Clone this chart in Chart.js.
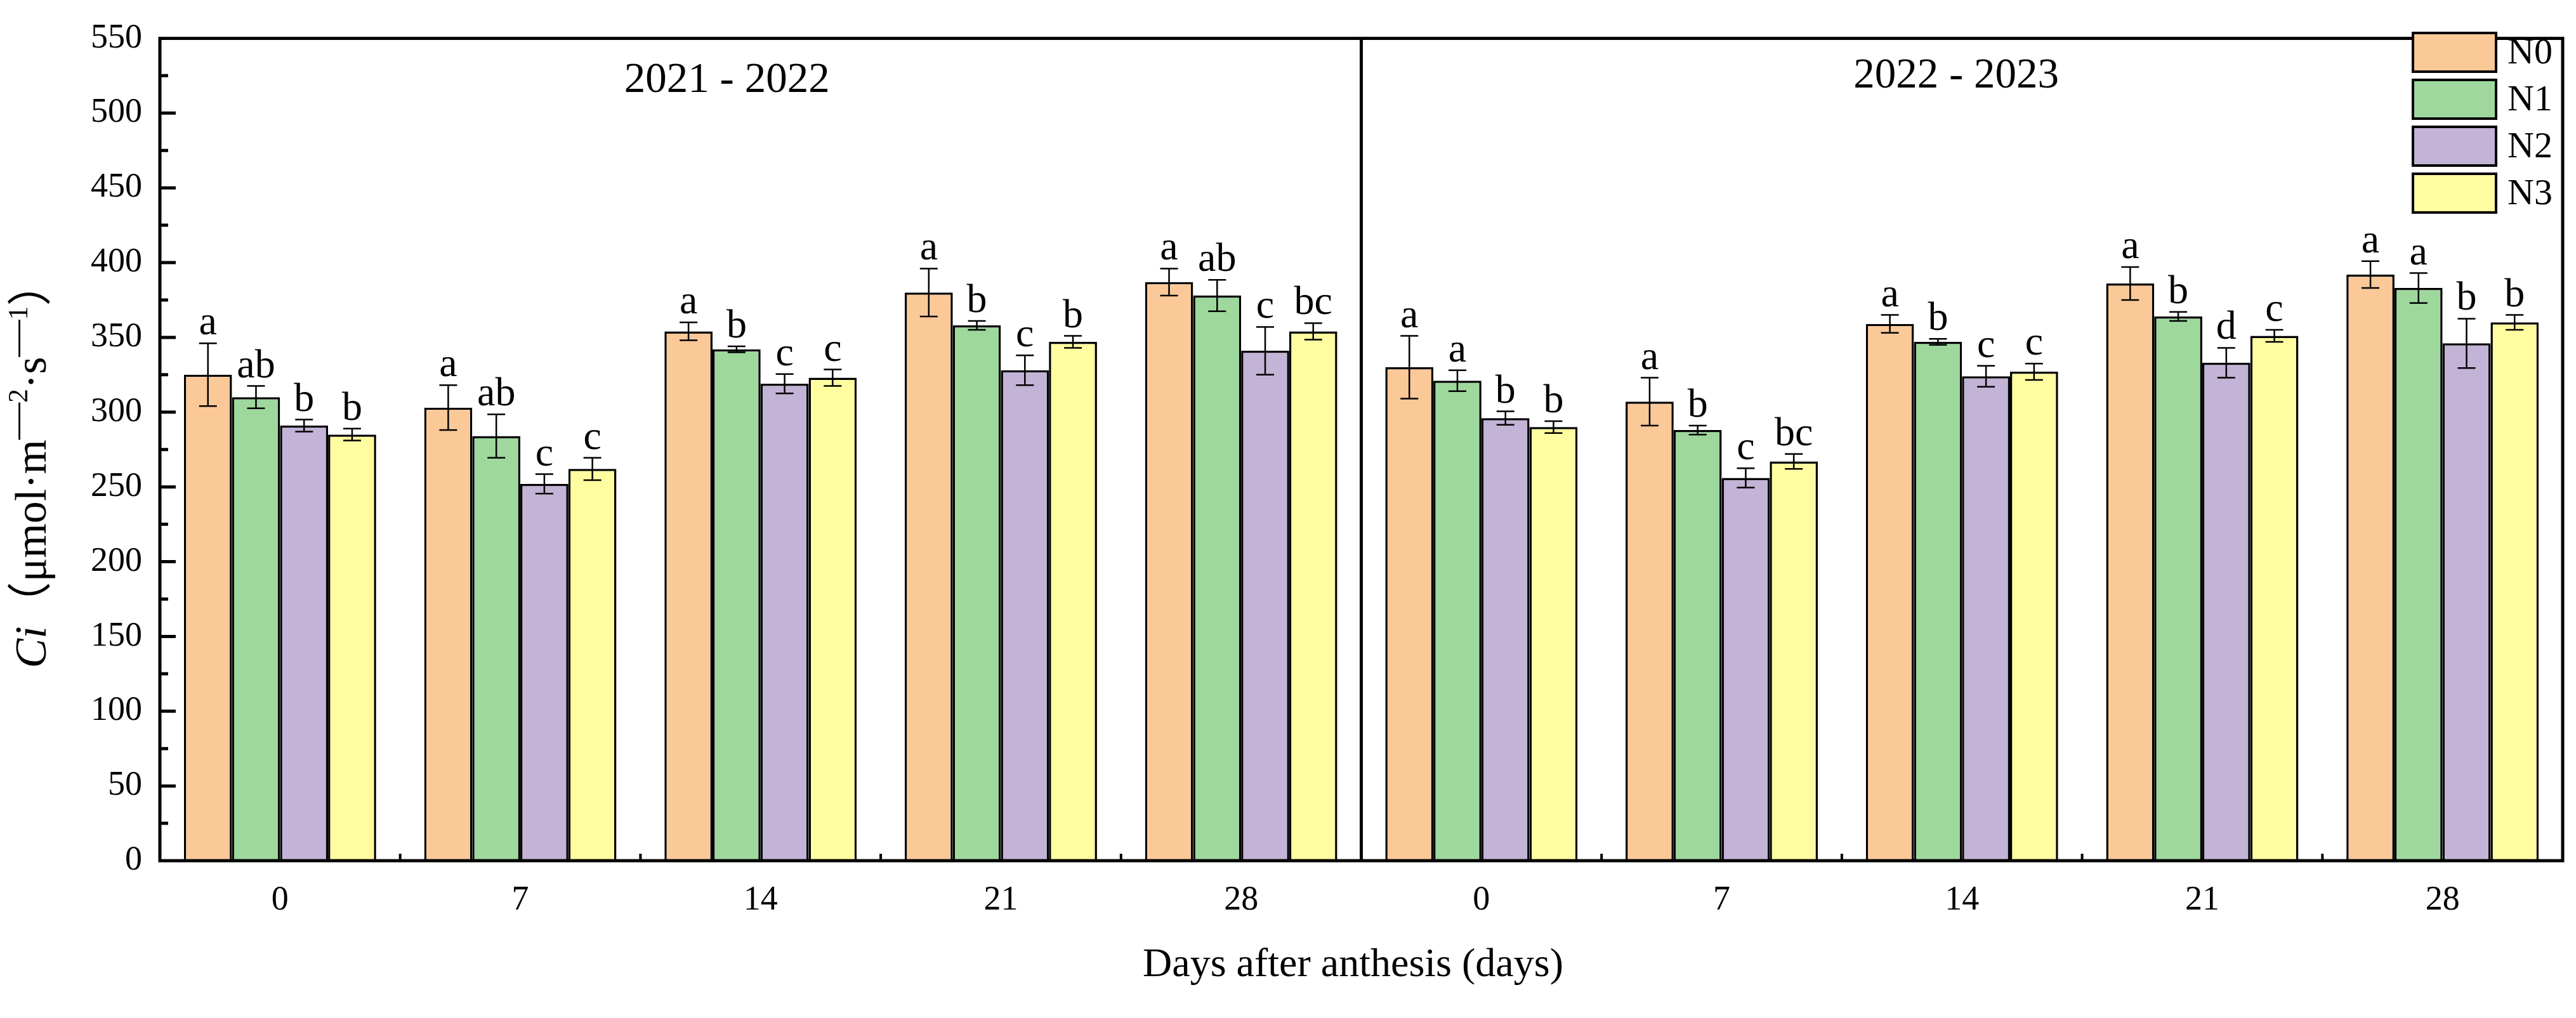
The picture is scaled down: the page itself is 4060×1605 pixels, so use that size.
<!DOCTYPE html>
<html>
<head>
<meta charset="utf-8">
<script src="https://cdn.jsdelivr.net/npm/chart.js@4.4.1/dist/chart.umd.min.js"></script>
<style>
  html, body { margin: 0; padding: 0; background: #fff; }
  canvas { display: block; }
</style>
</head>
<body>
<canvas id="ciChart" width="4060" height="1605"></canvas>
<script>
const days = ['0', '7', '14', '21', '28'];
const seasons = ['2021 - 2022', '2022 - 2023'];
const treatments = ['N0', 'N1', 'N2', 'N3'];
const colors = ['#FBC998', '#9ED89D', '#C3B3D6', '#FFFDA0'];

// first five values = 2021-2022, last five = 2022-2023
const n0 = [325, 303, 354, 380, 387, 330, 307, 359, 386, 392];
const n1 = [310, 284, 342, 358, 378, 321, 288, 347, 364, 383];
const n2 = [291, 252, 319, 328, 341, 296, 256, 324, 333, 346];
const n3 = [285, 262, 323, 347, 354, 290, 267, 327, 351, 360];

const n0Err = [21, 15, 6, 16, 9, 21, 16, 6, 11, 9];
const n1Err = [7.5, 14.5, 2, 3, 10.5, 7, 3, 2, 3, 10];
const n2Err = [4, 6.5, 6.5, 10, 16, 4.5, 6.5, 7, 10, 16.5];
const n3Err = [4, 7.5, 5.5, 4, 5.5, 4, 5, 5.5, 4, 5];

const n0Sig = ['a', 'a', 'a', 'a', 'a', 'a', 'a', 'a', 'a', 'a'];
const n1Sig = ['ab', 'ab', 'b', 'b', 'ab', 'a', 'b', 'b', 'b', 'a'];
const n2Sig = ['b', 'c', 'c', 'c', 'c', 'b', 'c', 'c', 'd', 'b'];
const n3Sig = ['b', 'c', 'c', 'b', 'bc', 'b', 'bc', 'c', 'c', 'b'];

const serif = "'Liberation Serif', 'Times New Roman', 'Noto Sans CJK SC', serif";

const means = [n0, n1, n2, n3];
const errs = [n0Err, n1Err, n2Err, n3Err];
const sigs = [n0Sig, n1Sig, n2Sig, n3Sig];

function drawYTitle(ctx, cx, cy) {
    const big = 70, small = 44;
    const parts = [
        { t: 'Ci', font: `italic ${big}px ${serif}`, rise: 0 },
        { t: '（μmol·m', font: `${big}px ${serif}`, rise: 0 },
        { t: '—', font: `${small + 14}px ${serif}`, rise: 28 },
        { t: '2', font: `${small}px ${serif}`, rise: 29 },
        { t: '·s', font: `${big}px ${serif}`, rise: 0 },
        { t: '—', font: `${small + 14}px ${serif}`, rise: 28 },
        { t: '1', font: `${small}px ${serif}`, rise: 29 },
        { t: '）', font: `${big}px ${serif}`, rise: 0 }
    ];
    let total = 0;
    parts.forEach(p => { ctx.font = p.font; p.w = ctx.measureText(p.t).width; total += p.w; });
    ctx.save();
    ctx.translate(cx, cy);
    ctx.rotate(-Math.PI / 2);
    ctx.textAlign = 'left';
    ctx.textBaseline = 'alphabetic';
    let x = -total / 2;
    parts.forEach(p => {
        ctx.font = p.font;
        ctx.fillText(p.t, x, -p.rise);
        x += p.w;
    });
    ctx.restore();
}

const decorations = {
    id: 'decorations',
    afterDatasetsDraw(chart) {
        const { ctx, scales: { y } } = chart;
        ctx.save();
        ctx.strokeStyle = '#000';
        ctx.fillStyle = '#000';
        ctx.lineWidth = 2.5;
        ctx.textAlign = 'center';
        ctx.textBaseline = 'alphabetic';
        ctx.font = `64px ${serif}`;
        chart.data.datasets.forEach((ds, di) => {
            const meta = chart.getDatasetMeta(di);
            meta.data.forEach((bar, i) => {
                const hi = y.getPixelForValue(ds.data[i] + ds.err[i]);
                const lo = y.getPixelForValue(ds.data[i] - ds.err[i]);
                const cx = bar.x;
                ctx.beginPath();
                ctx.moveTo(cx, hi); ctx.lineTo(cx, lo);
                ctx.moveTo(cx - 14, hi); ctx.lineTo(cx + 14, hi);
                ctx.moveTo(cx - 14, lo); ctx.lineTo(cx + 14, lo);
                ctx.stroke();
                ctx.fillText(ds.sig[i], cx, hi - 14);
            });
        });
        ctx.restore();
    },
    afterDraw(chart) {
        const { ctx, chartArea: a, scales: { x, y } } = chart;
        ctx.save();
        ctx.strokeStyle = '#000';
        ctx.fillStyle = '#000';

        // y ticks pointing inward
        ctx.lineWidth = 5;
        ctx.beginPath();
        for (let v = 25; v < 550; v += 25) {
            const py = y.getPixelForValue(v);
            const len = v % 50 === 0 ? 25 : 13;
            ctx.moveTo(a.left, py); ctx.lineTo(a.left + len, py);
        }
        ctx.stroke();

        // x ticks at category boundaries
        ctx.lineWidth = 4;
        ctx.beginPath();
        for (let i = 0; i < 9; i++) {
            if (i === 4) continue;
            const bx = (x.getPixelForValue(i) + x.getPixelForValue(i + 1)) / 2;
            ctx.moveTo(bx, a.bottom); ctx.lineTo(bx, a.bottom - 11);
        }
        ctx.stroke();

        // frame and season divider
        const mid = (x.getPixelForValue(4) + x.getPixelForValue(5)) / 2;
        ctx.lineWidth = 5;
        ctx.beginPath();
        ctx.rect(a.left, a.top, a.right - a.left, a.bottom - a.top);
        ctx.moveTo(mid, a.top); ctx.lineTo(mid, a.bottom);
        ctx.stroke();

        // season labels
        ctx.font = `67px ${serif}`;
        ctx.textAlign = 'center';
        ctx.textBaseline = 'alphabetic';
        const w = a.right - a.left;
        ctx.fillText(seasons[0], a.left + w * 0.236, 145);
        ctx.fillText(seasons[1], a.left + w * 0.7476, 138);

        // legend
        chart.data.datasets.forEach((ds, i) => {
            const bx = a.right - 236, by = 52 + i * 74;
            ctx.fillStyle = ds.backgroundColor;
            ctx.fillRect(bx, by, 131, 61);
            ctx.lineWidth = 4;
            ctx.strokeRect(bx, by, 131, 61);
            ctx.fillStyle = '#000';
            ctx.font = `58px ${serif}`;
            ctx.textAlign = 'left';
            ctx.textBaseline = 'middle';
            ctx.fillText(ds.label, bx + 149, by + 33);
        });

        // axis titles
        ctx.font = `64px ${serif}`;
        ctx.textAlign = 'center';
        ctx.textBaseline = 'alphabetic';
        ctx.fillText('Days after anthesis (days)', (a.left + a.right) / 2 - 13, 1539);
        drawYTitle(ctx, 72, 733);
        ctx.restore();
    }
};

const ctx = document.getElementById('ciChart').getContext('2d');
const ciChart = new Chart(ctx, {
    type: 'bar',
    data: {
        labels: days.concat(days),
        datasets: treatments.map((name, i) => ({
            label: name,
            data: means[i],
            err: errs[i],
            sig: sigs[i],
            backgroundColor: colors[i],
            borderColor: '#000',
            borderWidth: 3.5,
            categoryPercentage: 0.8,
            barPercentage: 1.0
        }))
    },
    options: {
        responsive: false,
        animation: false,
        devicePixelRatio: 1,
        layout: { padding: { left: 0, right: 21, top: 38, bottom: 0 } },
        plugins: {
            legend: { display: false },
            tooltip: { enabled: false }
        },
        scales: {
            x: {
                grid: { display: false, drawTicks: false },
                border: { display: false },
                ticks: {
                    color: '#000',
                    font: { family: serif, size: 54 },
                    padding: 30,
                    maxRotation: 0,
                    autoSkip: false
                },
                afterFit: s => { s.height = 248; }
            },
            y: {
                min: 0,
                max: 550,
                grid: { display: false, drawTicks: false },
                border: { display: false },
                ticks: {
                    stepSize: 50,
                    color: '#000',
                    font: { family: serif, size: 54 },
                    padding: 28
                },
                afterFit: s => { s.width = 252; }
            }
        }
    },
    plugins: [decorations]
});
</script>
</body>
</html>
